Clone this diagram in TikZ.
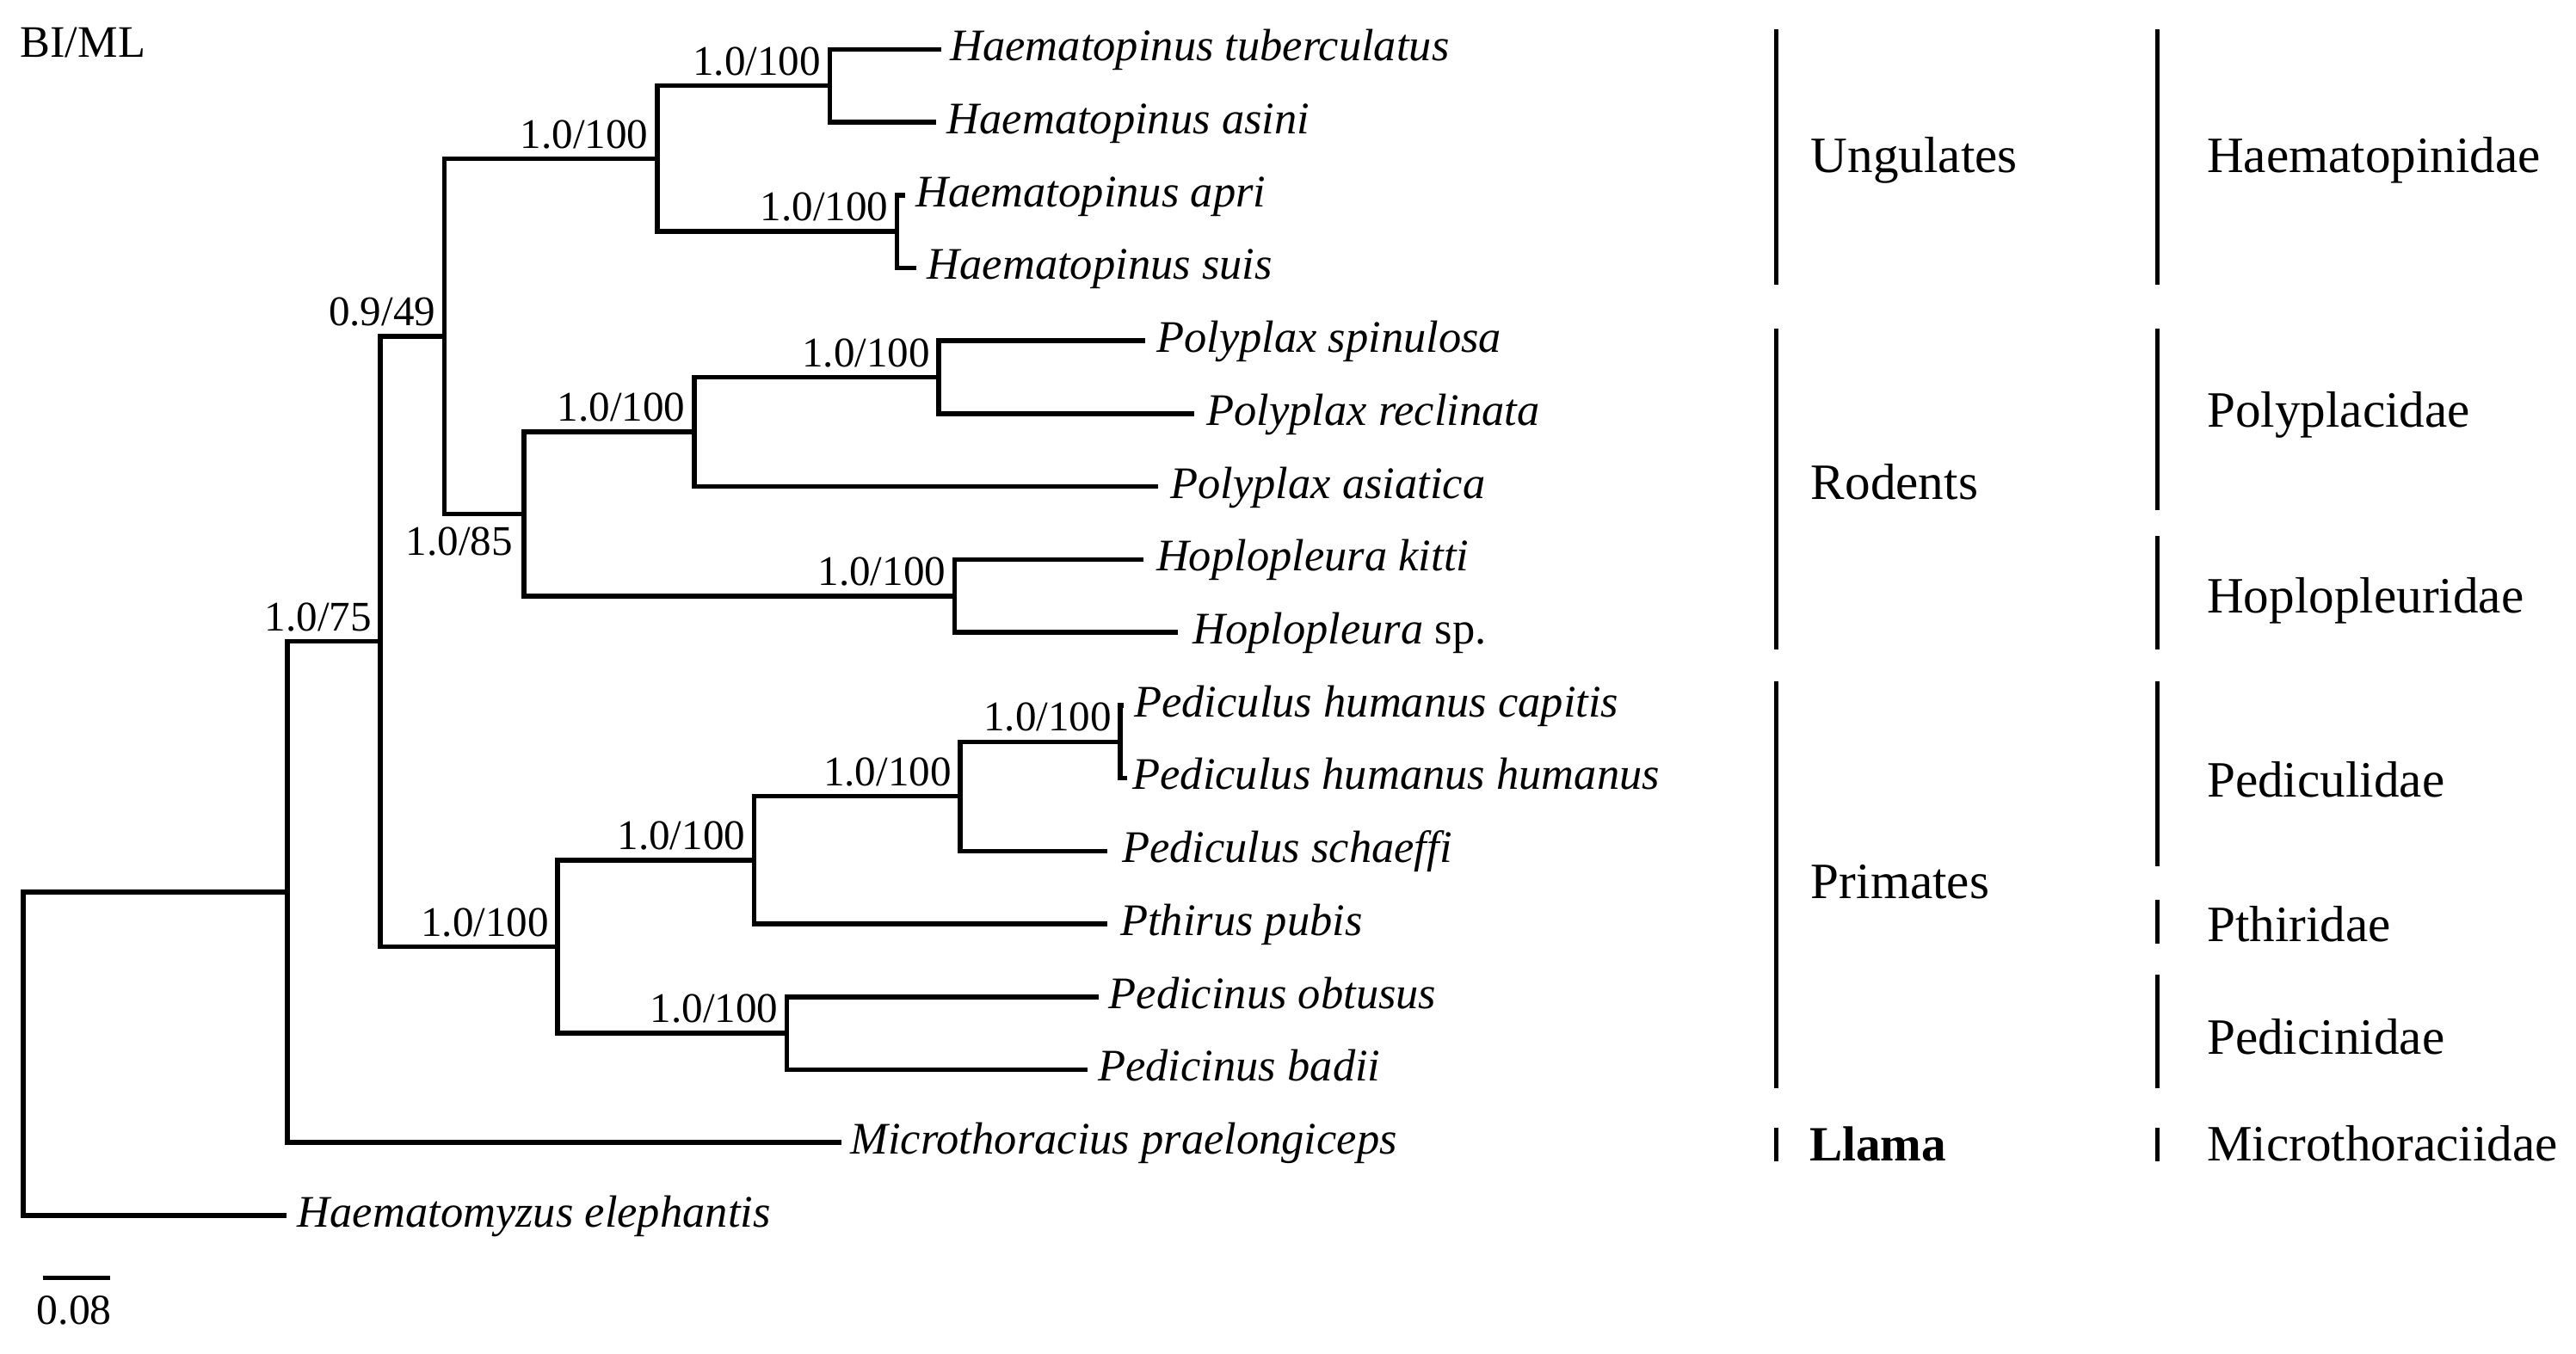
\documentclass[tikz,border=0pt]{standalone}
\usepackage{fontspec}
\setmainfont{Liberation Serif}
\begin{document}
\begin{tikzpicture}[x=0.5pt,y=-0.5pt,
  br/.style={line width=1.45pt, line join=miter},
  bar/.style={line width=1.3pt},
  tax/.style={anchor=base west, inner sep=0pt, font=\fontsize{13.75}{16}\selectfont\itshape},
  sup/.style={anchor=base east, inner sep=0pt, font=\fontsize{12.85}{15}\selectfont},
  grp/.style={anchor=base west, inner sep=0pt, font=\fontsize{15.5}{18}\selectfont}]
\useasboundingbox (0,0) rectangle (1568,824.3);

% internal nodes
\coordinate (R) at (14,641.5);
\coordinate (O) at (175,543.1);
\coordinate (N) at (231.5,390.5);
\coordinate (H) at (270.5,204.7);
\coordinate (C) at (400,96.6);
\coordinate (A) at (505,52.2);
\coordinate (B) at (546,140.9);
\coordinate (G) at (319,312.9);
\coordinate (E) at (422.5,263);
\coordinate (D) at (571.5,229.7);
\coordinate (F) at (581,362.8);
\coordinate (M) at (339.5,576.4);
\coordinate (K) at (459,523.7);
\coordinate (J) at (584.5,484.8);
\coordinate (I) at (682,451.6);
\coordinate (L) at (479,629.1);

% tip line ends
\coordinate (e1) at (573,30);
\coordinate (e2) at (570,74.4);
\coordinate (e3) at (551,118.75);
\coordinate (e4) at (558,163.1);
\coordinate (e5) at (697,207.5);
\coordinate (e6) at (727,251.9);
\coordinate (e7) at (705,296.25);
\coordinate (e8) at (696,340.6);
\coordinate (e9) at (717,385);
\coordinate (e10) at (684,429.4);
\coordinate (e11) at (686,473.75);
\coordinate (e12) at (674,518.1);
\coordinate (e13) at (674,562.5);
\coordinate (e14) at (669,606.9);
\coordinate (e15) at (662,651.25);
\coordinate (e16) at (512,695.6);
\coordinate (e17) at (174.5,740);

% branches
\draw[br] (R) |- (O);  \draw[br] (R) |- (e17);
\draw[br] (O) |- (N);  \draw[br] (O) |- (e16);
\draw[br] (N) |- (H);  \draw[br] (N) |- (M);
\draw[br] (H) |- (C);  \draw[br] (H) |- (G);
\draw[br] (C) |- (A);  \draw[br] (C) |- (B);
\draw[br] (A) |- (e1); \draw[br] (A) |- (e2);
\draw[br] (B) |- (e3); \draw[br] (B) |- (e4);
\draw[br] (G) |- (E);  \draw[br] (G) |- (F);
\draw[br] (E) |- (D);  \draw[br] (E) |- (e7);
\draw[br] (D) |- (e5); \draw[br] (D) |- (e6);
\draw[br] (F) |- (e8); \draw[br] (F) |- (e9);
\draw[br] (M) |- (K);  \draw[br] (M) |- (L);
\draw[br] (K) |- (J);  \draw[br] (K) |- (e13);
\draw[br] (J) |- (I);  \draw[br] (J) |- (e12);
\draw[br] (I) |- (e10); \draw[br] (I) |- (e11);
\draw[br] (L) |- (e14); \draw[br] (L) |- (e15);

% taxa
\node[tax] (t1) at (578,37) {Haematopinus tuberculatus};
\node[tax] (t2) at (576,81.4) {Haematopinus asini};
\node[tax] (t3) at (557,125.75) {Haematopinus apri};
\node[tax] (t4) at (564,170.1) {Haematopinus suis};
\node[tax] (t5) at (703.5,214.5) {Polyplax spinulosa};
\node[tax] (t6) at (734,258.9) {Polyplax reclinata};
\node[tax] (t7) at (712,303.25) {Polyplax asiatica};
\node[tax] (t8) at (703.5,347.6) {Hoplopleura kitti};
\node[tax] (t9) at (725.6,392) {Hoplopleura\/ \upshape sp.};
\node[tax] (t10) at (690,436.4) {Pediculus humanus capitis};
\node[tax] (t11) at (689,480.75) {Pediculus humanus humanus};
\node[tax] (t12) at (682.6,525.1) {Pediculus schaeffi};
\node[tax] (t13) at (681.5,569.5) {Pthirus pubis};
\node[tax] (t14) at (674.5,613.9) {Pedicinus obtusus};
\node[tax] (t15) at (668,658.25) {Pedicinus badii};
\node[tax] (t16) at (517.3,702.6) {Microthoracius praelongiceps};
\node[tax] (t17) at (180.7,747) {Haematomyzus elephantis};

% support values
\node[sup] (sA) at ([shift={(-5,-6.5)}]A) {1.0/100};
\node[sup] (sB) at ([shift={(-5,-6.5)}]B) {1.0/100};
\node[sup] (sC) at ([shift={(-5,-6.5)}]C) {1.0/100};
\node[sup] (sH) at ([shift={(-5,-6.5)}]H) {0.9/49};
\node[sup] (sD) at ([shift={(-5,-6.5)}]D) {1.0/100};
\node[sup] (sE) at ([shift={(-5,-6.5)}]E) {1.0/100};
\node[sup] (sG) at ([shift={(-6.5,25)}]G) {1.0/85};
\node[sup] (sF) at ([shift={(-5,-6.5)}]F) {1.0/100};
\node[sup] (sN) at ([shift={(-5,-6.5)}]N) {1.0/75};
\node[sup] (sI) at ([shift={(-5,-6.5)}]I) {1.0/100};
\node[sup] (sJ) at ([shift={(-5,-6.5)}]J) {1.0/100};
\node[sup] (sK) at ([shift={(-5,-6.5)}]K) {1.0/100};
\node[sup] (sM) at ([shift={(-5,-6.5)}]M) {1.0/100};
\node[sup] (sL) at ([shift={(-5,-6.5)}]L) {1.0/100};

% title and scale bar
\node[anchor=base west, inner sep=0pt, font=\fontsize{13.7}{16}\selectfont] (title) at (12,35) {BI/ML};
\coordinate (sb1) at (26,778);
\coordinate (sb2) at (67,778);
\draw[br] (sb1) -- (sb2);
\node[anchor=base west, inner sep=0pt, font=\fontsize{13}{16}\selectfont] (sbl) at (22,806) {0.08};

% host column
\draw[bar] (1081,18) -- (1081,173.5);
\draw[bar] (1081,200) -- (1081,395.5);
\draw[bar] (1081,415) -- (1081,662.5);
\draw[bar] (1081,686.5) -- (1081,707);
\node[grp] (h1) at (1102,105) {Ungulates};
\node[grp] (h2) at (1102,304) {Rodents};
\node[grp] (h3) at (1102,547) {Primates};
\node[grp,font=\fontsize{15}{18}\selectfont\bfseries] (h4) at (1101,707) {Llama};

% family column
\draw[bar] (1313,18) -- (1313,173.5);
\draw[bar] (1313,200) -- (1313,310.5);
\draw[bar] (1313,326.5) -- (1313,395.5);
\draw[bar] (1313,415) -- (1313,527.5);
\draw[bar] (1313,548) -- (1313,574.5);
\draw[bar] (1313,593.5) -- (1313,662.5);
\draw[bar] (1313,686.5) -- (1313,707);
\node[grp] (f1) at (1343,105) {Haematopinidae};
\node[grp] (f2) at (1343,260) {Polyplacidae};
\node[grp] (f3) at (1343,373) {Hoplopleuridae};
\node[grp] (f4) at (1343,485) {Pediculidae};
\node[grp] (f5) at (1343,573) {Pthiridae};
\node[grp] (f6) at (1343,642) {Pedicinidae};
\node[grp] (f7) at (1343,707) {Microthoraciidae};
\end{tikzpicture}
\end{document}
